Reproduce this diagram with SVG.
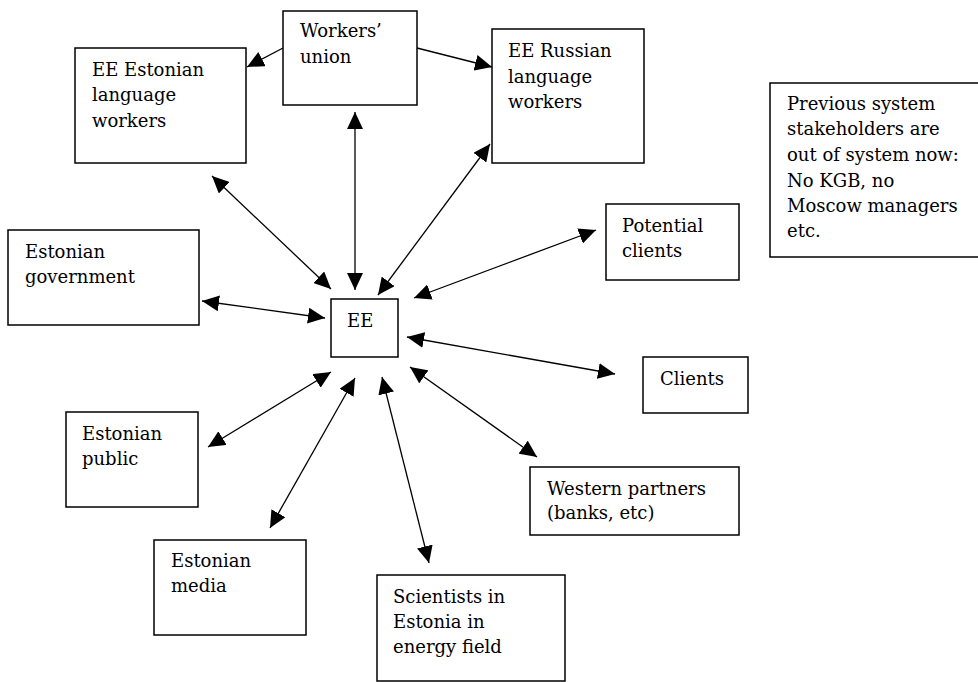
<svg xmlns="http://www.w3.org/2000/svg" width="978" height="682" viewBox="0 0 978 682">
  <style>
    .box { fill: #ffffff; stroke: #000000; stroke-width: 1.5; }
    .lbl { font-family: "DejaVu Serif", "Liberation Serif", serif; font-size: 18px; fill: #000000; }
    .link { fill: none; stroke: #000000; stroke-width: 1.3; }
    .two { marker-start: url(#head); marker-end: url(#head); }
    .one { marker-end: url(#head); }
  </style>
  <defs>
    <marker id="head" viewBox="0 0 17 16" refX="17" refY="8" markerWidth="17" markerHeight="16" markerUnits="userSpaceOnUse" orient="auto-start-reverse">
      <path d="M0,0 L17,8 L0,16 Z" fill="#000000"/>
    </marker>
  </defs>

  <rect width="978" height="682" fill="#ffffff"/>

  <!-- connectors -->
  <g id="connectors">
    <line class="link one" x1="283" y1="48" x2="247" y2="67"/>
    <line class="link one" x1="417" y1="48" x2="492" y2="67"/>
    <line class="link two" x1="355" y1="112" x2="355" y2="290"/>
    <line class="link two" x1="212" y1="176" x2="331" y2="289"/>
    <line class="link two" x1="490" y1="144" x2="378" y2="295"/>
    <line class="link two" x1="202" y1="301" x2="325" y2="318"/>
    <line class="link two" x1="596" y1="230" x2="414" y2="298"/>
    <line class="link two" x1="407" y1="337" x2="615" y2="374"/>
    <line class="link two" x1="410" y1="367" x2="537" y2="457"/>
    <line class="link two" x1="382" y1="377" x2="429" y2="563"/>
    <line class="link two" x1="355" y1="378" x2="270" y2="528"/>
    <line class="link two" x1="331" y1="372" x2="208" y2="447"/>
  </g>

  <!-- nodes -->
  <g id="workers-union">
    <rect class="box" x="283" y="11" width="134" height="94"/>
    <text class="lbl" x="300" y="37">Workers’</text>
    <text class="lbl" x="300" y="63">union</text>
  </g>
  <g id="ee-estonian-workers">
    <rect class="box" x="75" y="48" width="171" height="115"/>
    <text class="lbl" x="92" y="76">EE Estonian</text>
    <text class="lbl" x="92" y="101">language</text>
    <text class="lbl" x="92" y="127">workers</text>
  </g>
  <g id="ee-russian-workers">
    <rect class="box" x="492" y="29" width="152" height="134"/>
    <text class="lbl" x="508" y="57">EE Russian</text>
    <text class="lbl" x="508" y="83">language</text>
    <text class="lbl" x="508" y="108">workers</text>
  </g>
  <g id="previous-system">
    <rect class="box" x="770" y="83" width="215" height="174"/>
    <text class="lbl" x="787" y="110">Previous system</text>
    <text class="lbl" x="787" y="135">stakeholders are</text>
    <text class="lbl" x="787" y="161">out of system now:</text>
    <text class="lbl" x="787" y="187">No KGB, no</text>
    <text class="lbl" x="787" y="212">Moscow managers</text>
    <text class="lbl" x="787" y="237">etc.</text>
  </g>
  <g id="estonian-government">
    <rect class="box" x="8" y="230" width="191" height="95"/>
    <text class="lbl" x="25" y="258">Estonian</text>
    <text class="lbl" x="25" y="283">government</text>
  </g>
  <g id="ee">
    <rect class="box" x="331" y="299" width="67" height="58"/>
    <text class="lbl" x="347" y="327">EE</text>
  </g>
  <g id="potential-clients">
    <rect class="box" x="606" y="204" width="133" height="76"/>
    <text class="lbl" x="622" y="232">Potential</text>
    <text class="lbl" x="622" y="257">clients</text>
  </g>
  <g id="clients">
    <rect class="box" x="643" y="357" width="105" height="56"/>
    <text class="lbl" x="660" y="385">Clients</text>
  </g>
  <g id="estonian-public">
    <rect class="box" x="66" y="412" width="132" height="95"/>
    <text class="lbl" x="82" y="440">Estonian</text>
    <text class="lbl" x="82" y="465">public</text>
  </g>
  <g id="estonian-media">
    <rect class="box" x="154" y="540" width="152" height="95"/>
    <text class="lbl" x="171" y="567">Estonian</text>
    <text class="lbl" x="171" y="592">media</text>
  </g>
  <g id="scientists">
    <rect class="box" x="377" y="575" width="188" height="106"/>
    <text class="lbl" x="393" y="603">Scientists in</text>
    <text class="lbl" x="393" y="628">Estonia in</text>
    <text class="lbl" x="393" y="653">energy field</text>
  </g>
  <g id="western-partners">
    <rect class="box" x="530" y="467" width="209" height="68"/>
    <text class="lbl" x="547" y="495">Western partners</text>
    <text class="lbl" x="547" y="519">(banks, etc)</text>
  </g>
</svg>
